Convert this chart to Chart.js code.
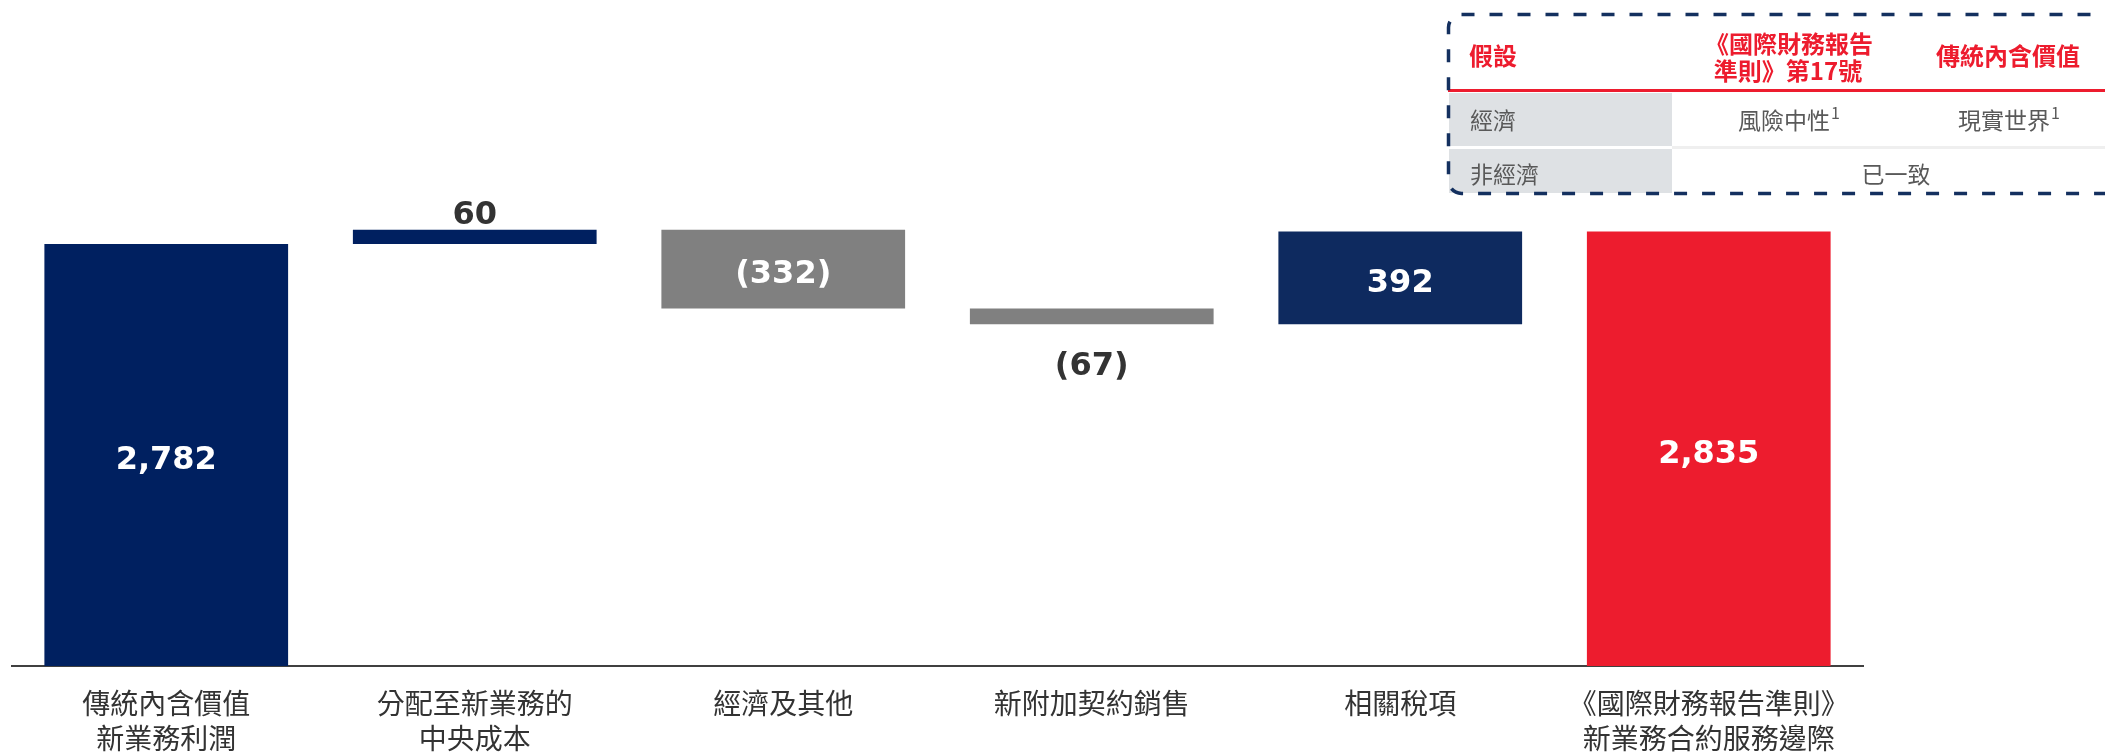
<!DOCTYPE html>
<html>
<head>
<meta charset="utf-8">
<script src="https://cdn.jsdelivr.net/npm/chart.js@4.4.0/dist/chart.umd.min.js"></script>
<style>
html,body{margin:0;padding:0;background:#fff;}
#wrap{position:relative;width:2105px;height:753px;overflow:hidden;}
#chartBox{position:absolute;left:0;top:0;width:2105px;height:753px;}
.t{position:absolute;white-space:nowrap;font-family:"Noto Sans CJK TC","Noto Sans",sans-serif;line-height:1;}
.hd{color:#ED1C2E;font-weight:700;font-size:24px;}
.bd{color:#595959;font-weight:400;font-size:23px;}
.l{transform:translate(0,-50%);}
.c{transform:translate(-50%,-50%);}
sup{font-size:16px;vertical-align:top;position:relative;top:-4px;margin-left:1px;}
.r{position:absolute;}
</style>
</head>
<body>
<div id="wrap">
  <div id="chartBox"><canvas id="c"></canvas></div>

  <!-- assumptions table -->
  <div class="r" style="left:1449px;top:93px;width:223px;height:53px;background:#DEE1E4;"></div>
  <div class="r" style="left:1449px;top:149px;width:223px;height:44px;background:#DEE1E4;"></div>
  <div class="r" style="left:1672px;top:146px;width:440px;height:3px;background:#EFEFEF;"></div>
  <div class="r" style="left:1448px;top:89px;width:670px;height:3px;background:#ED1C2E;"></div>

  <div class="t hd l" style="left:1469px;top:55px;">假設</div>
  <div class="t hd c" style="left:1789px;top:43px;">《國際財務報告</div>
  <div class="t hd c" style="left:1788px;top:70px;">準則》第17號</div>
  <div class="t hd c" style="left:2008px;top:55px;">傳統內含價值</div>

  <div class="t bd l" style="left:1470px;top:119px;">經濟</div>
  <div class="t bd c" style="left:1789px;top:119px;">風險中性<sup>1</sup></div>
  <div class="t bd c" style="left:2009px;top:119px;">現實世界<sup>1</sup></div>

  <div class="t bd l" style="left:1470px;top:173px;">非經濟</div>
  <div class="t bd c" style="left:1896px;top:173px;">已一致</div>

  <svg class="r" style="left:0;top:0;" width="2105" height="753">
    <rect x="1448.5" y="14.5" width="700" height="179" rx="13" ry="13" fill="none" stroke="#14305F" stroke-width="3.5" stroke-dasharray="13 15"/>
  </svg>
</div>

<script>
// ---- data ----
const categories = [
  ["傳統內含價值", "新業務利潤"],
  ["分配至新業務的", "中央成本"],
  ["經濟及其他"],
  ["新附加契約銷售"],
  ["相關稅項"],
  ["《國際財務報告準則》", "新業務合約服務邊際"]
];
const changes = [2782, 60, -332, -67, 392, 2835];
const isTotal = [true, false, false, false, false, true];
const valueLabels = ["2,782", "60", "(332)", "(67)", "392", "2,835"];
const barColors = ["#002060", "#002060", "#808080", "#808080", "#0E2A5F", "#ED1C2E"];
const labelPlacement = ["inside", "above", "inside", "below", "inside", "inside"];
const axisMin = 1000;
const axisMax = 3800;

// build floating ranges for the waterfall
const floating = [];
let running = 0;
changes.forEach((v, i) => {
  if (isTotal[i]) {
    floating.push([0, v]);
    running = v;
  } else {
    const start = running;
    running += v;
    floating.push([Math.min(start, running), Math.max(start, running)]);
  }
});

const labelPlugin = {
  id: 'valueLabels',
  afterDatasetsDraw(chart) {
    const { ctx, chartArea } = chart;
    const meta = chart.getDatasetMeta(0);
    const ys = chart.scales.y;
    ctx.save();
    ctx.font = 'bold 32px "DejaVu Sans", Verdana, sans-serif';
    ctx.textAlign = 'center';
    ctx.textBaseline = 'middle';
    meta.data.forEach((el, i) => {
      const [lo, hi] = floating[i];
      const top = Math.max(ys.getPixelForValue(hi), chartArea.top);
      const bot = Math.min(ys.getPixelForValue(lo), chartArea.bottom);
      let y, color;
      if (labelPlacement[i] === 'inside') { y = (top + bot) / 2 + 6; color = '#ffffff'; }
      else if (labelPlacement[i] === 'above') { y = top - 14; color = '#333333'; }
      else { y = bot + 42; color = '#333333'; }
      ctx.fillStyle = color;
      ctx.fillText(valueLabels[i], el.x, y);
    });
    ctx.restore();
  }
};

new Chart(document.getElementById('c'), {
  type: 'bar',
  data: {
    labels: categories,
    datasets: [{
      data: floating,
      backgroundColor: barColors,
      borderWidth: 0,
      barPercentage: 0.79,
      categoryPercentage: 1
    }]
  },
  options: {
    responsive: true,
    maintainAspectRatio: false,
    animation: false,
    layout: { padding: { left: 12, right: 242, top: 3, bottom: 0 } },
    plugins: { legend: { display: false }, tooltip: { enabled: false } },
    scales: {
      x: {
        z: 1,
        grid: { display: false, drawTicks: false },
        border: { display: true, color: '#404040', width: 2 },
        ticks: {
          color: '#333333',
          font: { family: '"Noto Sans CJK TC", sans-serif', size: 28, lineHeight: 1.25 },
          padding: 20,
          autoSkip: false,
          maxRotation: 0,
          minRotation: 0
        },
        afterFit(scale) { scale.height = 87; }
      },
      y: { display: false, min: axisMin, max: axisMax }
    }
  },
  plugins: [labelPlugin]
});
</script>
</body>
</html>
